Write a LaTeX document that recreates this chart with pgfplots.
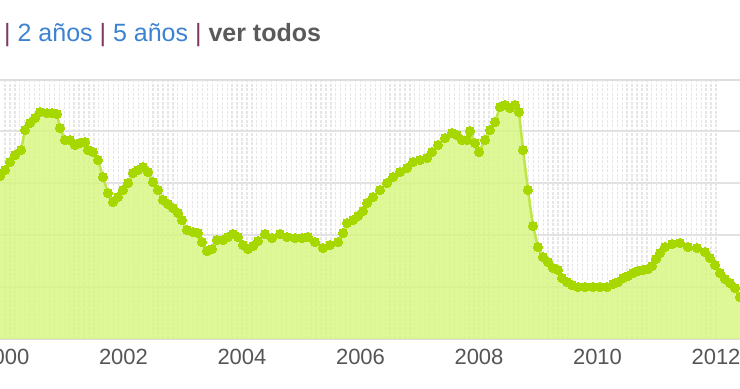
\documentclass[border=0pt]{standalone}
\usepackage{pgfplots}
\usepackage{pgfplotstable}
\pgfplotsset{compat=1.18}
\usepackage{fontspec}
\setmainfont{Liberation Sans}
\definecolor{sepc}{RGB}{125,55,105}
\definecolor{linkc}{RGB}{60,130,210}
\definecolor{boldc}{RGB}{90,90,90}
\definecolor{gridc}{RGB}{226,226,226}
\definecolor{vgridc}{RGB}{230,230,230}
\definecolor{borderc}{RGB}{222,222,222}
\definecolor{dotc}{RGB}{166,216,0}
\definecolor{linec}{RGB}{190,230,70}
\definecolor{fillc}{RGB}{214,245,125}
\definecolor{tickc}{RGB}{85,85,85}
\pgfplotstableread{
x y
1999.916 163
2000.000 169
2000.084 177
2000.169 184
2000.270 189
2000.338 209
2000.422 216
2000.506 221
2000.591 227
2000.709 226
2000.793 226
2000.878 225
2000.928 211
2001.013 199
2001.097 199
2001.181 194
2001.266 196
2001.350 197
2001.401 189
2001.485 187
2001.570 179
2001.654 162
2001.738 146
2001.823 137
2001.907 142
2001.992 149
2002.076 156
2002.160 166
2002.245 169
2002.329 172
2002.414 167
2002.498 157
2002.582 149
2002.667 139
2002.751 135
2002.835 131
2002.920 126
2002.987 119
2003.072 109
2003.173 107
2003.257 106
2003.325 97
2003.409 88
2003.494 90
2003.578 99
2003.679 99
2003.764 102
2003.848 105
2003.932 102
2004.017 94
2004.101 90
2004.186 93
2004.270 98
2004.388 105
2004.506 101
2004.641 105
2004.759 102
2004.895 101
2005.013 101
2005.114 102
2005.232 97
2005.367 91
2005.485 94
2005.620 97
2005.705 106
2005.772 116
2005.873 119
2005.958 123
2006.042 128
2006.110 136
2006.211 142
2006.329 149
2006.447 156
2006.549 162
2006.667 167
2006.785 171
2006.886 177
2007.004 179
2007.122 181
2007.207 187
2007.308 194
2007.426 201
2007.544 206
2007.629 204
2007.713 199
2007.797 199
2007.848 208
2007.932 196
2008.000 187
2008.101 199
2008.186 209
2008.270 217
2008.354 232
2008.439 234
2008.523 231
2008.608 234
2008.675 227
2008.743 189
2008.827 149
2008.911 113
2008.996 92
2009.080 82
2009.165 77
2009.249 71
2009.333 69
2009.401 61
2009.485 57
2009.570 54
2009.671 52
2009.789 52
2009.924 52
2010.042 52
2010.160 52
2010.262 55
2010.346 57
2010.430 61
2010.515 63
2010.599 66
2010.684 68
2010.768 69
2010.852 70
2010.920 73
2010.987 80
2011.055 86
2011.139 92
2011.257 95
2011.392 96
2011.527 92
2011.679 91
2011.814 87
2011.899 81
2011.983 74
2012.068 66
2012.152 60
2012.236 56
2012.321 51
2012.405 42
}\data
\begin{document}
\begin{tikzpicture}
\path[use as bounding box] (0,0) rectangle (740bp,389bp);
\begin{axis}[
  at={(0,50bp)}, anchor=south west,
  scale only axis, width=740bp, height=259bp,
  xmin=1999.916, xmax=2012.405, ymin=0, ymax=259,
  xtick={2000,2002,2004,2006,2008,2010,2012},
  xticklabels={2000,2002,2004,2006,2008,2010,2012},
  minor x tick num=23,
  ytick={52,104,156,208}, yticklabels={},
  major tick length=0, minor tick length=0,
  ymajorgrids, xmajorgrids, xminorgrids,
  y grid style={color=gridc, line width=2bp},
  x grid style={color=vgridc, line width=1.3bp, dash pattern=on 3bp off 1.5bp},
  separate axis lines,
  y axis line style={draw=none},
  x axis line style={draw=borderc, line width=2.5bp},
  xticklabel style={font=\fontsize{22bp}{24bp}\selectfont, text=tickc, yshift=-7bp},
]
\addplot[draw=none, fill=fillc, fill opacity=0.8] table {\data} \closedcycle;
\addplot[color=linec, line width=2.5bp, no marks] table {\data};
\addplot[only marks, mark=*, mark size=4.6bp, mark options={fill=dotc, draw=dotc, line width=0pt}] table {\data};
\end{axis}
\node[anchor=west, inner sep=0, font=\fontsize{25bp}{29bp}\selectfont] at (4bp,354bp)
  {\textcolor{sepc}{|} \textcolor{linkc}{2 años} \textcolor{sepc}{|} \textcolor{linkc}{5 años} \textcolor{sepc}{|} \textcolor{boldc}{\bfseries ver todos}};
\end{tikzpicture}
\end{document}
